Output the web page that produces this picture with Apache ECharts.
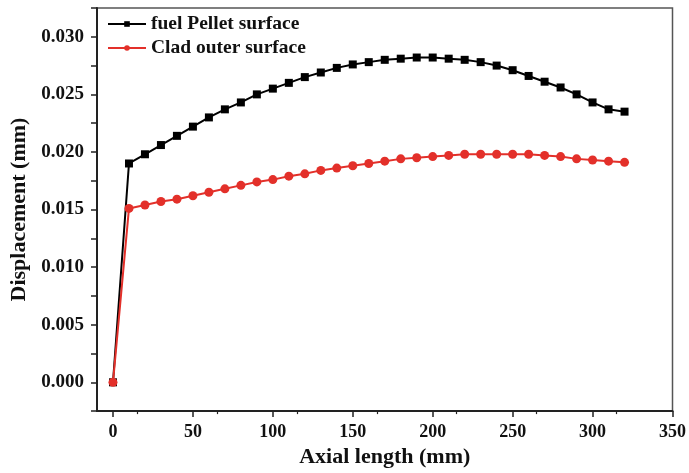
<!DOCTYPE html>
<html>
<head>
<meta charset="utf-8">
<script src="https://cdn.jsdelivr.net/npm/echarts@6/dist/echarts.min.js"></script>
<style>
  html, body { margin: 0; padding: 0; background: #fff; }
  #chart { width: 689px; height: 473px; }
</style>
</head>
<body>
<div id="chart"></div>
<script>
// Axial positions (mm)
const axialLength = [0, 10, 20, 30, 40, 50, 60, 70, 80, 90, 100, 110, 120, 130, 140, 150, 160,
  170, 180, 190, 200, 210, 220, 230, 240, 250, 260, 270, 280, 290, 300, 310, 320];

// Radial displacement of the fuel pellet surface (mm)
const pelletSurface = [0.0000, 0.0190, 0.0198, 0.0206, 0.0214, 0.0222, 0.0230, 0.0237, 0.0243,
  0.0250, 0.0255, 0.0260, 0.0265, 0.0269, 0.0273, 0.0276, 0.0278, 0.0280, 0.0281, 0.0282,
  0.0282, 0.0281, 0.0280, 0.0278, 0.0275, 0.0271, 0.0266, 0.0261, 0.0256, 0.0250, 0.0243,
  0.0237, 0.0235];

// Radial displacement of the clad outer surface (mm)
const cladSurface = [0.0000, 0.0151, 0.0154, 0.0157, 0.0159, 0.0162, 0.0165, 0.0168, 0.0171,
  0.0174, 0.0176, 0.0179, 0.0181, 0.0184, 0.0186, 0.0188, 0.0190, 0.0192, 0.0194, 0.0195,
  0.0196, 0.0197, 0.0198, 0.0198, 0.0198, 0.0198, 0.0198, 0.0197, 0.0196, 0.0194, 0.0193,
  0.0192, 0.0191];

const seriesNames = ['fuel Pellet surface', 'Clad outer surface'];

// Labelled x ticks
const xTickValues = [0, 50, 100, 150, 200, 250, 300, 350];

const font = 'Liberation Serif, Times New Roman, serif';
const toPairs = (ys) => axialLength.map((x, i) => [x, ys[i]]);

const chart = echarts.init(document.getElementById('chart'));
chart.setOption({
  animation: false,
  backgroundColor: '#ffffff',
  grid: {
    left: 97, right: 16, top: 8, bottom: 61,
    show: true, borderColor: '#555555', borderWidth: 1.5, containLabel: false
  },
  legend: {
    orient: 'vertical',
    left: 107, top: 14, padding: 0,
    itemWidth: 38, itemHeight: 7, itemGap: 4,
    textStyle: { fontFamily: font, fontWeight: 'bold', fontSize: 19.5, color: '#111' },
    data: seriesNames
  },
  xAxis: {
    type: 'value',
    min: -10, max: 350, interval: 50,
    name: 'Axial length (mm)',
    nameLocation: 'middle', nameGap: 34,
    nameTextStyle: { fontFamily: font, fontWeight: 'bold', fontSize: 22, color: '#111' },
    axisLine: { onZero: false, lineStyle: { color: '#222', width: 2 } },
    axisTick: { show: true, inside: false, length: 6, lineStyle: { color: '#222', width: 1.5 },
      customValues: xTickValues },
    minorTick: { show: true, splitNumber: 2, length: 3, lineStyle: { color: '#222', width: 1.2 } },
    axisLabel: {
      fontFamily: font, fontWeight: 'bold', fontSize: 18, color: '#111', margin: 12,
      customValues: xTickValues
    },
    splitLine: { show: false }
  },
  yAxis: {
    type: 'value',
    min: -0.0025, max: 0.0325, interval: 0.0025,
    name: 'Displacement (mm)',
    nameLocation: 'middle', nameGap: 67,
    nameTextStyle: { fontFamily: font, fontWeight: 'bold', fontSize: 22, color: '#111' },
    axisLine: { onZero: false, lineStyle: { color: '#222', width: 2 } },
    axisTick: { show: true, inside: false, length: 6, lineStyle: { color: '#222', width: 1.5 } },
    axisLabel: {
      fontFamily: font, fontWeight: 'bold', fontSize: 19, color: '#111', margin: 13,
      formatter: (v) => {
        const r = Math.round(v * 10000);
        return (r % 50 === 0) ? v.toFixed(3) : '';
      }
    },
    splitLine: { show: false }
  },
  series: [
    {
      name: seriesNames[0],
      type: 'line',
      data: toPairs(pelletSurface),
      symbol: 'rect', symbolSize: 8,
      itemStyle: { color: '#000000' },
      lineStyle: { color: '#000000', width: 2 },
      z: 2
    },
    {
      name: seriesNames[1],
      type: 'line',
      data: toPairs(cladSurface),
      symbol: 'circle', symbolSize: 9,
      itemStyle: { color: '#e3302a' },
      lineStyle: { color: '#e3302a', width: 2 },
      z: 3
    }
  ]
});
</script>
</body>
</html>
